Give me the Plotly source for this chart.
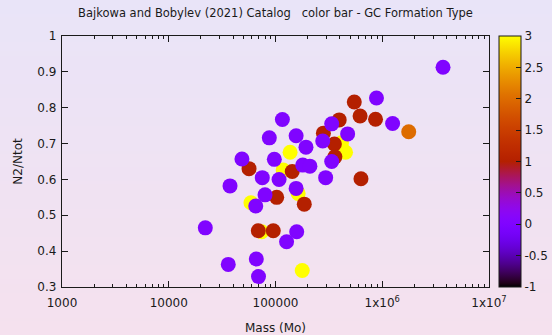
import base64
import math
import struct
import zlib

import plotly.graph_objects as go

# ---- data: globular clusters, Bajkowa & Bobylev (2021) catalog ----
# gc_type: formation type code (0, 1, 2, 3)
mass = [
    58900, 74300, 118000, 137000, 163000, 178000, 453000, 415000,
    1770000,
    56500, 69000, 95300, 102600, 143500, 186000, 281000, 395000, 356000,
    360000, 547000, 620000, 865000, 632000,
    3710000, 1250000, 883000, 336000, 474000, 277000, 336000, 295000,
    193000, 156000, 116000, 87500, 97500, 48500, 75200, 108000, 37500,
    180000, 210000, 156000, 79800, 65300, 158000, 127000, 22000, 36100,
    66100, 69300,
]
n2_ratio = [
    0.535, 0.454, 0.626, 0.676, 0.561, 0.346, 0.676, 0.702,
    0.733,
    0.630, 0.457, 0.457, 0.550, 0.622, 0.531, 0.729, 0.766, 0.699,
    0.663, 0.816, 0.777, 0.768, 0.602,
    0.913, 0.756, 0.827, 0.755, 0.727, 0.707, 0.650, 0.605,
    0.690, 0.722, 0.767, 0.716, 0.656, 0.657, 0.605, 0.600, 0.582,
    0.640, 0.637, 0.575, 0.557, 0.526, 0.454, 0.426, 0.465, 0.363,
    0.378, 0.329,
]
gc_type = [
    3, 3, 3, 3, 3, 3, 3, 3,
    2,
    1, 1, 1, 1, 1, 1, 1, 1, 1,
    1, 1, 1, 1, 1,
    0, 0, 0, 0, 0, 0, 0, 0,
    0, 0, 0, 0, 0, 0, 0, 0, 0,
    0, 0, 0, 0, 0, 0, 0, 0, 0,
    0, 0,
]

x_tickvals = [1e3, 1e4, 1e5, 1e6, 1e7]
x_ticktext = ["1000", "10000", "100000", "1x10<sup>6</sup>", "1x10<sup>7</sup>"]
y_tickvals = [0.3, 0.4, 0.5, 0.6, 0.7, 0.8, 0.9, 1.0]
y_ticktext = ["0.3", "0.4", "0.5", "0.6", "0.7", "0.8", "0.9", "1"]
cb_tickvals = [-1, -0.5, 0, 0.5, 1, 1.5, 2, 2.5, 3]
cb_ticktext = ["-1", "-0.5", "0", "0.5", "1", "1.5", "2", "2.5", "3"]

W, H = 552, 335
L, R, T, B = 62, 63, 36, 48
FONT = "DejaVu Sans"
INK = "#1a1a1a"


def gnuplot_rgb(t):
    """Default gnuplot palette: rgbformulae 7,5,15."""
    r = math.sqrt(t)
    g = t ** 3
    b = math.sin(2 * math.pi * t)
    c = [min(max(v, 0.0), 1.0) for v in (r, g, b)]
    return "rgb(%d,%d,%d)" % tuple(round(255 * v) for v in c)


colorscale = [[i / 64, gnuplot_rgb(i / 64)] for i in range(65)]


def gradient_png(height, top, bottom):
    rows = b""
    for i in range(height):
        f = i / (height - 1)
        px = bytes(round(top[k] + (bottom[k] - top[k]) * f) for k in range(3))
        rows += b"\x00" + px
    def chunk(tag, data):
        c = tag + data
        return struct.pack(">I", len(data)) + c + struct.pack(">I", zlib.crc32(c) & 0xFFFFFFFF)
    png = b"\x89PNG\r\n\x1a\n"
    png += chunk(b"IHDR", struct.pack(">IIBBBBB", 1, height, 8, 2, 0, 0, 0))
    png += chunk(b"IDAT", zlib.compress(rows, 9))
    png += chunk(b"IEND", b"")
    return "data:image/png;base64," + base64.b64encode(png).decode()


pw, ph = W - L - R, H - T - B
cb_x0 = 1 + (499 - (W - R)) / pw

fig = go.Figure()
fig.add_trace(go.Scatter(
    x=mass, y=n2_ratio, mode="markers",
    marker=dict(
        size=15, color=gc_type, colorscale=colorscale, cmin=-1, cmax=3,
        line=dict(width=0),
        colorbar=dict(
            x=cb_x0, xanchor="left", xpad=0, ypad=0,
            y=0.5, yanchor="middle", len=1, lenmode="fraction",
            thickness=22, thicknessmode="pixels",
            outlinewidth=1, outlinecolor=INK,
            tickvals=cb_tickvals, ticktext=cb_ticktext,
            ticks="inside", ticklen=5, tickwidth=1.2, tickcolor=INK,
            tickfont=dict(family=FONT, size=12, color=INK),
        ),
    ),
    hoverinfo="x+y", showlegend=False,
))

# ticks on the left edge of the colour bar as well
for v in cb_tickvals[1:-1]:
    yp = (v - (-1)) / 4
    fig.add_shape(type="line", xref="paper", yref="paper",
                  x0=cb_x0, x1=cb_x0 + 5 / pw, y0=yp, y1=yp,
                  line=dict(color=INK, width=1.2))

minor_x = [m * 10 ** d for d in range(3, 7) for m in range(2, 10)]

fig.update_xaxes(
    type="log", range=[3, 7],
    tickvals=x_tickvals, ticktext=x_ticktext,
    ticks="inside", ticklen=6, tickwidth=1.2, tickcolor=INK, ticklabelstandoff=4,
    minor=dict(tickvals=minor_x, ticks="inside", ticklen=3, tickwidth=1, tickcolor=INK),
    showline=True, linecolor=INK, linewidth=1.3, mirror="ticks",
    showgrid=False, zeroline=False, automargin=False,
    tickfont=dict(family=FONT, size=12, color=INK),
    title=dict(text="Mass (Mo)", font=dict(family=FONT, size=12, color=INK), standoff=15),
)
fig.update_yaxes(
    range=[0.3, 1.0],
    tickvals=y_tickvals, ticktext=y_ticktext,
    ticks="inside", ticklen=6, tickwidth=1.2, tickcolor=INK, ticklabelstandoff=2,
    showline=True, linecolor=INK, linewidth=1.3, mirror="ticks",
    showgrid=False, zeroline=False, automargin=False,
    tickfont=dict(family=FONT, size=12, color=INK),
    title=dict(text="N2/Ntot", font=dict(family=FONT, size=12, color=INK), standoff=12),
)

fig.update_layout(
    width=W, height=H,
    margin=dict(l=L, r=R, t=T, b=B, autoexpand=False),
    paper_bgcolor="rgb(239,227,243)", plot_bgcolor="rgba(0,0,0,0)",
    title=dict(
        text="Bajkowa and Bobylev (2021) Catalog\u00a0\u00a0\u00a0color bar - GC Formation Type",
        x=0.5, xanchor="center", xref="paper", y=1 - 13 / H, yanchor="middle",
        font=dict(family=FONT, size=11.5, color=INK),
    ),
    images=[dict(
        source=gradient_png(H, (233, 228, 248), (245, 225, 238)),
        xref="paper", yref="paper",
        x=-L / pw, y=1 + T / ph, sizex=W / pw, sizey=H / ph,
        xanchor="left", yanchor="top", sizing="stretch", layer="below",
    )],
)

fig.write_html("out.html")
